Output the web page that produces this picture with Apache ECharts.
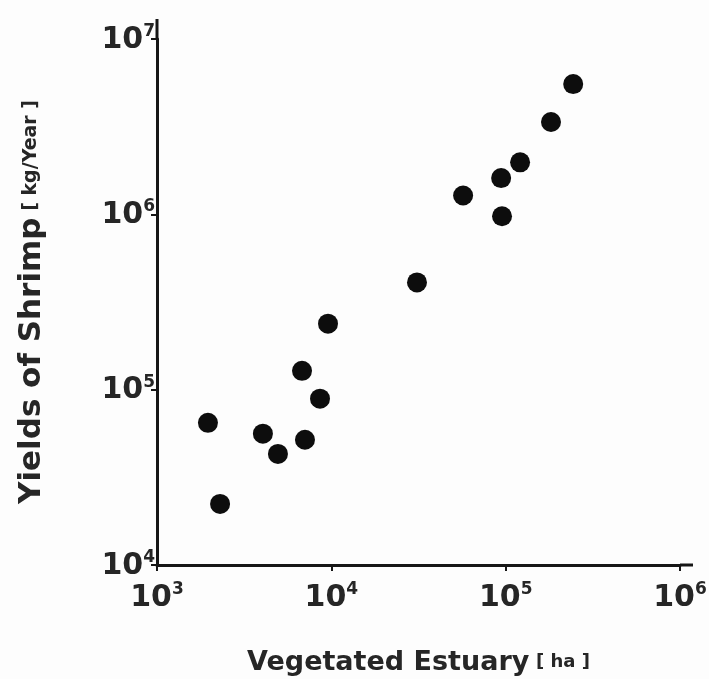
<!DOCTYPE html>
<html>
<head>
<meta charset="utf-8">
<script src="https://cdn.jsdelivr.net/npm/echarts@6/dist/echarts.min.js"></script>
<style>
  html, body { margin: 0; padding: 0; background: #fdfdfd; }
  #chart { width: 709px; height: 679px; }
</style>
</head>
<body>
<div id="chart"></div>
<script>
// vegetated estuary area (ha) vs shrimp yield (kg/year)
var estuaryArea = [1960, 2300, 4050, 4940, 6790, 7060, 8610, 9570, 31000, 57000, 94200, 95300, 121000, 182000, 244000];
var shrimpYield = [64700, 22300, 56100, 43000, 128000, 51800, 88900, 238000, 409000, 1280000, 1610000, 975000, 1980000, 3360000, 5530000];

var xName = 'Vegetated Estuary';
var xUnit = 'ha';
var yName = 'Yields of Shrimp';
var yUnit = 'kg/Year';

var points = estuaryArea.map(function (x, i) { return [x, shrimpYield[i]]; });

var ink = '#161616';
var textInk = '#262626';
var font = '"DejaVu Sans", Verdana, sans-serif';

function powLabel(v) {
    var e = Math.round(Math.log10(v));
    return '{b|10}{s|' + e + '}';
}

var powRich = {
    b: { fontSize: 30, fontFamily: font, fontWeight: 'bold', color: textInk, verticalAlign: 'bottom', lineHeight: 32 },
    s: { fontSize: 17, fontFamily: font, fontWeight: 'bold', color: textInk, verticalAlign: 'bottom', lineHeight: 32, padding: [0, 0, 15, 0] }
};

var chart = echarts.init(document.getElementById('chart'));
chart.setOption({
    backgroundColor: '#fdfdfd',
    animation: false,
    grid: { left: 157, right: 29, top: 39, bottom: 114, outerBoundsMode: 'none', containLabel: false },
    xAxis: {
        type: 'log',
        logBase: 10,
        min: 1000,
        max: 1000000,
        name: '{n|' + xName + '}  {u|[ ' + xUnit + ' ]}',
        nameLocation: 'middle',
        nameGap: 84,
        nameTextStyle: {
            rich: {
                n: { fontSize: 27, fontFamily: font, fontWeight: 'bold', color: textInk },
                u: { fontSize: 18, fontFamily: font, fontWeight: 'bold', color: textInk }
            }
        },
        axisLine: { onZero: false, lineStyle: { color: ink, width: 3 } },
        axisTick: { show: true, inside: false, length: 6, lineStyle: { color: ink, width: 2 } },
        splitLine: { show: false },
        axisLabel: { formatter: powLabel, rich: powRich, margin: 16 }
    },
    yAxis: {
        type: 'log',
        logBase: 10,
        min: 10000,
        max: 10000000,
        name: '{n|' + yName + '}  {u|[ ' + yUnit + ' ]}',
        nameLocation: 'middle',
        nameGap: 110,
        nameRotate: 90,
        nameTextStyle: {
            rich: {
                n: { fontSize: 31, fontFamily: font, fontWeight: 'bold', color: textInk },
                u: { fontSize: 19, fontFamily: font, fontWeight: 'bold', color: textInk }
            }
        },
        axisLine: { onZero: false, lineStyle: { color: ink, width: 3 } },
        axisTick: { show: true, inside: false, length: 6, lineStyle: { color: ink, width: 2 } },
        splitLine: { show: false },
        axisLabel: { formatter: powLabel, rich: powRich, margin: 2 }
    },
    series: [{
        type: 'scatter',
        data: points,
        symbol: 'circle',
        symbolSize: 20,
        itemStyle: { color: '#0d0d0d', opacity: 1 }
    }]
});

// the drawn axes run a little past the last decade
var corner = chart.convertToPixel({ gridIndex: 0 }, [1000000, 10000000]);
var origin = chart.convertToPixel({ gridIndex: 0 }, [1000, 10000]);
chart.setOption({
    graphic: [
        { type: 'line', shape: { x1: origin[0], y1: corner[1], x2: origin[0], y2: corner[1] - 20 }, style: { stroke: ink, lineWidth: 3 } },
        { type: 'line', shape: { x1: corner[0], y1: origin[1], x2: corner[0] + 13, y2: origin[1] }, style: { stroke: ink, lineWidth: 3 } }
    ]
});
</script>
</body>
</html>
